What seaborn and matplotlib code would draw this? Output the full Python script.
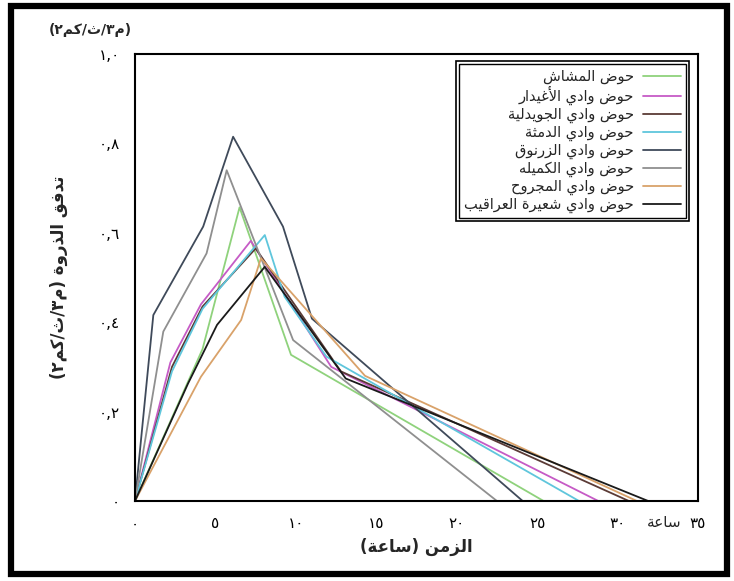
import numpy as np
import pandas as pd
import matplotlib
matplotlib.use("Agg")
import matplotlib.pyplot as plt
import matplotlib.transforms as mtransforms
from matplotlib.patches import Rectangle
import seaborn as sns

# ---------------------------------------------------------------- data
basins = [
    "حوض المشاش",
    "حوض وادي الأغيدار",
    "حوض وادي الجويدلية",
    "حوض وادي الدمثة",
    "حوض وادي الزرنوق",
    "حوض وادي الكميله",
    "حوض وادي المجروح",
    "حوض وادي شعيرة العراقيب",
]
colors = ["#8fd27c", "#c65bc6", "#5b3b36", "#5fc6dc",
          "#3f4a5a", "#8f8f8f", "#d9a26a", "#1a1a1a"]

t_mashash = [0, 4.2, 6.5, 9.7, 25.4]
q_mashash = [0, 0.34, 0.657, 0.327, 0]
t_aghaidar = [0, 2.2, 4.1, 7.2, 12.2, 28.8]
q_aghaidar = [0, 0.31, 0.44, 0.582, 0.30, 0]
t_juwaidliya = [0, 2.3, 4.2, 7.5, 12.8, 30.7]
q_juwaidliya = [0, 0.30, 0.435, 0.565, 0.29, 0]
t_damtha = [0, 2.3, 4.2, 8.07, 9.3, 11.9, 27.6]
q_damtha = [0, 0.29, 0.43, 0.595, 0.457, 0.323, 0]
t_zarnouq = [0, 1.14, 4.24, 6.1, 9.2, 11.0, 24.1]
q_zarnouq = [0, 0.416, 0.614, 0.815, 0.614, 0.408, 0]
t_kumaila = [0, 1.76, 4.45, 5.7, 9.83, 22.5]
q_kumaila = [0, 0.379, 0.554, 0.74, 0.36, 0]
t_majrouh = [0, 4.1, 6.6, 7.83, 14.3, 31.2]
q_majrouh = [0, 0.278, 0.405, 0.543, 0.28, 0]
t_shuaira = [0, 3.3, 5.1, 8.07, 13.1, 31.9]
q_shuaira = [0, 0.263, 0.394, 0.524, 0.274, 0]

times = [t_mashash, t_aghaidar, t_juwaidliya, t_damtha,
         t_zarnouq, t_kumaila, t_majrouh, t_shuaira]
flows = [q_mashash, q_aghaidar, q_juwaidliya, q_damtha,
         q_zarnouq, q_kumaila, q_majrouh, q_shuaira]

x_ticks = [0, 5, 10, 15, 20, 25, 30, 35]
x_tick_labels = ["٠", "٥", "١٠", "١٥", "٢٠", "٢٥", "٣٠", "٣٥"]
x_unit_word = "ساعة"
y_ticks = [0, 0.2, 0.4, 0.6, 0.8, 1.0]
y_tick_labels = ["٠", "٠,٢", "٠,٤", "٠,٦", "٠,٨", "١,٠"]
x_title = "الزمن (ساعة)"
y_title = "تدفق الذروة (م٣/ث/كم٢)"
unit_title = "(م٣/ث/كم٢)"

# ------------------------------------------------ Arabic shaping helpers
# presentation forms: isolated, final, initial, medial
FORMS = {
    "ا": ("\uFE8D", "\uFE8E", None, None),
    "أ": ("\uFE83", "\uFE84", None, None),
    "ب": ("\uFE8F", "\uFE90", "\uFE91", "\uFE92"),
    "ة": ("\uFE93", "\uFE94", None, None),
    "ت": ("\uFE95", "\uFE96", "\uFE97", "\uFE98"),
    "ث": ("\uFE99", "\uFE9A", "\uFE9B", "\uFE9C"),
    "ج": ("\uFE9D", "\uFE9E", "\uFE9F", "\uFEA0"),
    "ح": ("\uFEA1", "\uFEA2", "\uFEA3", "\uFEA4"),
    "د": ("\uFEA9", "\uFEAA", None, None),
    "ذ": ("\uFEAB", "\uFEAC", None, None),
    "ر": ("\uFEAD", "\uFEAE", None, None),
    "ز": ("\uFEAF", "\uFEB0", None, None),
    "س": ("\uFEB1", "\uFEB2", "\uFEB3", "\uFEB4"),
    "ش": ("\uFEB5", "\uFEB6", "\uFEB7", "\uFEB8"),
    "ض": ("\uFEBD", "\uFEBE", "\uFEBF", "\uFEC0"),
    "ع": ("\uFEC9", "\uFECA", "\uFECB", "\uFECC"),
    "غ": ("\uFECD", "\uFECE", "\uFECF", "\uFED0"),
    "ف": ("\uFED1", "\uFED2", "\uFED3", "\uFED4"),
    "ق": ("\uFED5", "\uFED6", "\uFED7", "\uFED8"),
    "ك": ("\uFED9", "\uFEDA", "\uFEDB", "\uFEDC"),
    "ل": ("\uFEDD", "\uFEDE", "\uFEDF", "\uFEE0"),
    "م": ("\uFEE1", "\uFEE2", "\uFEE3", "\uFEE4"),
    "ن": ("\uFEE5", "\uFEE6", "\uFEE7", "\uFEE8"),
    "ه": ("\uFEE9", "\uFEEA", "\uFEEB", "\uFEEC"),
    "و": ("\uFEED", "\uFEEE", None, None),
    "ي": ("\uFEF1", "\uFEF2", "\uFEF3", "\uFEF4"),
}
LAM_ALEF = {"ا": ("\uFEFB", "\uFEFC"), "أ": ("\uFEF7", "\uFEF8")}
DIGITS = set("٠١٢٣٤٥٦٧٨٩0123456789")
MIRROR = {"(": ")", ")": "("}


def _joins_next(ch):
    f = FORMS.get(ch)
    return f is not None and f[2] is not None


def shape(text):
    out, i, n = [], 0, len(text)
    while i < n:
        c = text[i]
        if c not in FORMS:
            out.append(c)
            i += 1
            continue
        linked_prev = i > 0 and _joins_next(text[i - 1])
        if c == "ل" and i + 1 < n and text[i + 1] in LAM_ALEF:
            out.append(LAM_ALEF[text[i + 1]][1 if linked_prev else 0])
            i += 2
            continue
        nxt = text[i + 1] if i + 1 < n else ""
        linked_next = _joins_next(c) and nxt in FORMS
        iso, fin, ini, med = FORMS[c]
        if linked_prev and linked_next:
            g = med
        elif linked_prev:
            g = fin
        elif linked_next:
            g = ini
        else:
            g = iso
        out.append(g)
        i += 1
    return "".join(out)


def rtl(text):
    """Shape Arabic text and lay it out right-to-left (numbers stay LTR)."""
    s = shape(text)
    runs = []
    for ch in s:
        num = ch in DIGITS
        if runs and runs[-1][0] == num:
            runs[-1][1].append(ch)
        else:
            runs.append([num, [ch]])
    pieces = []
    for num, chars in reversed(runs):
        if num:
            pieces.append("".join(chars))
        else:
            pieces.append("".join(MIRROR.get(c, c) for c in reversed(chars)))
    return "".join(pieces)


# ---------------------------------------------------------------- frame
rows = []
for name, ts, qs in zip(basins, times, flows):
    for t, q in zip(ts, qs):
        rows.append({"basin": rtl(name), "t": t, "q": q})
df = pd.DataFrame(rows)
hue_order = [rtl(b) for b in basins]

sns.set_theme(style="white")
plt.rcParams["font.family"] = ["DejaVu Sans"]

DPI = 100
fig = plt.figure(figsize=(7.34, 5.81), dpi=DPI)
ax = fig.add_axes([0.1839, 0.1377, 0.951 - 0.1839, 0.907 - 0.1377])

sns.lineplot(data=df, x="t", y="q", hue="basin", hue_order=hue_order,
             palette=colors, estimator=None, sort=False, linewidth=1.3,
             ax=ax, legend=True)

ax.set_xlim(0, 35)
ax.set_ylim(0, 1.0)
ax.set_xticks(x_ticks)
ax.set_xticklabels(x_tick_labels, fontsize=11)
ax.set_yticks(y_ticks)
ax.set_yticklabels(y_tick_labels, fontsize=11)
ax.tick_params(axis="both", direction="out", length=7, width=1.2,
               color="black", pad=4, labelcolor="black")
for s in ax.spines.values():
    s.set_visible(True)
    s.set_color("black")
    s.set_linewidth(1.5)

ax.set_xlabel(rtl(x_title), fontsize=12, fontweight="bold", labelpad=5)
ax.set_ylabel(rtl(y_title), fontsize=12, fontweight="bold", labelpad=22)

# unit word beside the last tick
ax.text(34.0, -0.047, rtl(x_unit_word), ha="right", va="center",
        fontsize=11, transform=ax.transData, clip_on=False)

# unit above the value axis
fig.text(90 / 734, 1 - 30 / 581, rtl(unit_title), ha="center", va="center",
         fontsize=10, fontweight="bold")

handles, labels = ax.get_legend_handles_labels()
if ax.get_legend():
    ax.get_legend().remove()
leg = ax.legend(handles, labels, loc="upper right",
                bbox_to_anchor=(0.978, 0.978), markerfirst=False,
                frameon=True, fancybox=False, framealpha=1,
                edgecolor="black", fontsize=10.5, labelspacing=0.12,
                handlelength=2.6, handletextpad=0.6, borderpad=0.35,
                borderaxespad=0.0)
leg.get_frame().set_linewidth(1.0)
for line in leg.get_lines():
    line.set_linewidth(1.3)

# second outline round the legend box
fig.canvas.draw()
bb = leg.get_window_extent()
fig.add_artist(Rectangle((bb.x0 - 3, bb.y0 - 3), bb.width + 6, bb.height + 6,
                         transform=mtransforms.IdentityTransform(),
                         fill=False, edgecolor="black", linewidth=1.2))

# thick outer border of the figure
fig.add_artist(Rectangle((0.015, 0.012), 0.975, 0.978,
                         transform=fig.transFigure, fill=False,
                         edgecolor="black", linewidth=4.5))

fig.savefig("out.png", dpi=DPI)
